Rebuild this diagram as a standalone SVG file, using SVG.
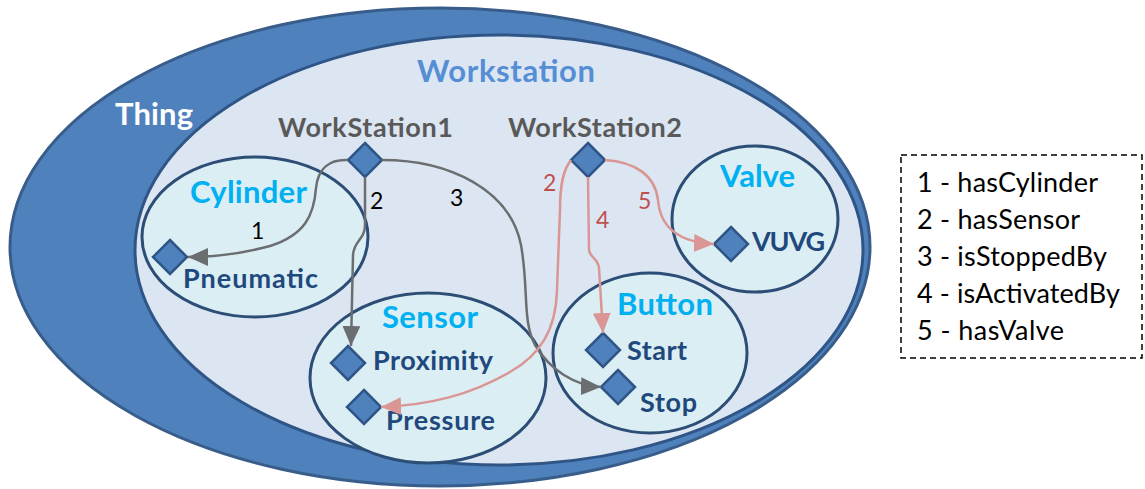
<svg xmlns="http://www.w3.org/2000/svg" width="1145" height="489" viewBox="0 0 1145 489">
<style>
.cls{fill:#00b0f0;font-family:Lato,"Open Sans",sans-serif;font-weight:bold;font-size:31px}
.ind{fill:#1f497d;font-family:Lato,"Open Sans",sans-serif;font-weight:bold;font-size:27px}
.ws{fill:#595959;font-family:Lato,"Open Sans",sans-serif;font-weight:bold;font-size:27px}
.dia{fill:#4f81bd;stroke:#2f5587;stroke-width:2.5}
.sub{fill:#dbeef4;stroke:#2c4d75;stroke-width:3}
.el{font-family:Lato,"Open Sans",sans-serif;font-size:23px}
.blk{fill:#000}
.red{fill:#c0504d}
.g{fill:none;stroke:#6b6e70;stroke-width:2.5}
.r{fill:none;stroke:#d99694;stroke-width:2.5}
.leg{fill:#000;font-family:Lato,"Open Sans",sans-serif;font-size:27px}
</style>
<defs>
<marker id="ag" markerUnits="userSpaceOnUse" markerWidth="22" markerHeight="18" refX="20" refY="9" orient="auto"><path d="M0,0 L20,9 L0,18 Z" fill="#6b6e70"/></marker>
<marker id="ar" markerUnits="userSpaceOnUse" markerWidth="22" markerHeight="18" refX="20" refY="9" orient="auto"><path d="M0,0 L20,9 L0,18 Z" fill="#d99694"/></marker>
</defs>
<g id="thing">
<ellipse cx="440" cy="247" rx="430" ry="239" fill="#4f81bd" stroke="#385d8a" stroke-width="3"/>
<text x="115" y="125" fill="#fff" font-family="Lato,'Open Sans',sans-serif" font-weight="bold" font-size="31" textLength="78">Thing</text>
</g>
<g id="workstation">
<ellipse cx="499" cy="250" rx="364" ry="215" fill="#dce6f2" stroke="#2f5587" stroke-width="3"/>
<text x="417" y="82" fill="#558ed5" font-family="Lato,'Open Sans',sans-serif" font-weight="bold" font-size="31" textLength="178">Workstation</text>
</g>
<g id="cylinder">
<ellipse class="sub" cx="255" cy="237" rx="113" ry="80"/>
<text class="cls" x="190" y="203" textLength="117">Cylinder</text>
</g>
<g id="sensor">
<ellipse class="sub" cx="428" cy="378" rx="118" ry="85"/>
<text class="cls" x="382" y="328" textLength="96">Sensor</text>
</g>
<g id="button">
<ellipse class="sub" cx="650" cy="353" rx="97" ry="80"/>
<text class="cls" x="617" y="315" textLength="96">Button</text>
</g>
<g id="valve">
<ellipse class="sub" cx="755" cy="219" rx="83" ry="73"/>
<text class="cls" x="720" y="187" textLength="75">Valve</text>
</g>
<g id="ws1">
<text class="ws" x="278" y="137" textLength="175">WorkStation1</text>
<path class="dia" d="M365,143 L382,160 L365,177 L348,160 Z"/>
</g>
<g id="ws2">
<text class="ws" x="508" y="137" textLength="174">WorkStation2</text>
<path class="dia" d="M588,143 L605,160 L588,177 L571,160 Z"/>
</g>
<g id="pneumatic">
<path class="dia" d="M170,240 L187,257 L170,274 L153,257 Z"/>
<text class="ind" x="183" y="288" textLength="135">Pneumatic</text>
</g>
<g id="proximity">
<path class="dia" d="M348,346 L365,363 L348,380 L331,363 Z"/>
<text class="ind" x="373" y="370" textLength="120">Proximity</text>
</g>
<g id="pressure">
<path class="dia" d="M364,390 L381,407 L364,424 L347,407 Z"/>
<text class="ind" x="386" y="430" textLength="109">Pressure</text>
</g>
<g id="start">
<path class="dia" d="M603,333 L620,350 L603,367 L586,350 Z"/>
<text class="ind" x="627" y="360" textLength="60">Start</text>
</g>
<g id="stop">
<path class="dia" d="M618,370 L635,387 L618,404 L601,387 Z"/>
<text class="ind" x="640" y="412" textLength="57">Stop</text>
</g>
<g id="vuvg">
<path class="dia" d="M731,227 L748,244 L731,261 L714,244 Z"/>
<text class="ind" x="752" y="251" textLength="73">VUVG</text>
</g>
<g id="connectors">
<path class="g" marker-end="url(#ag)" d="M348,160 C330,159 318,168 316,188 C314,215 305,235 270,246 C240,254 215,257 188,257"/>
<path class="g" marker-end="url(#ag)" d="M365,177 L365,225 C365,240 354,240 353,255 L351,346"/>
<path class="g" marker-end="url(#ag)" d="M382,160 C450,160 510,190 521,245 C529,290 522,320 535,345 C550,370 575,386 601,387"/>
<path class="r" marker-end="url(#ar)" d="M571,160 C563,170 560,185 560,210 L557,290 C556,330 540,355 510,372 C470,395 430,405 381,407"/>
<path class="r" marker-end="url(#ar)" d="M588,177 L589,250 C590,258 598,258 599,268 L603,333"/>
<path class="r" marker-end="url(#ar)" d="M605,160 C635,162 655,175 658,200 C660,225 675,242 714,244"/>
<text class="el blk" x="251" y="239">1</text>
<text class="el blk" x="370" y="209">2</text>
<text class="el blk" x="450" y="206">3</text>
<text class="el red" x="543" y="191">2</text>
<text class="el red" x="596" y="228">4</text>
<text class="el red" x="638" y="209">5</text>
</g>
<g id="legend">
<rect x="901" y="155" width="241" height="203" fill="#fff" stroke="#000" stroke-width="1.5" stroke-dasharray="6,4"/>
<text class="leg" x="917" y="192" textLength="181">1 - hasCylinder</text>
<text class="leg" x="917" y="229" textLength="163">2 - hasSensor</text>
<text class="leg" x="917" y="266" textLength="190">3 - isStoppedBy</text>
<text class="leg" x="917" y="303" textLength="203">4 - isActivatedBy</text>
<text class="leg" x="917" y="340" textLength="147">5 - hasValve</text>
</g>
</svg>
